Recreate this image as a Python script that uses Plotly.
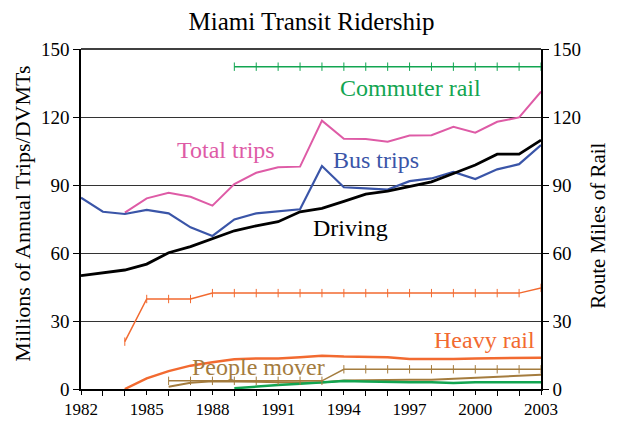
import plotly.graph_objects as go

years = list(range(1982, 2004))

driving = [50, 51.3, 52.5, 55.1, 60.1, 62.8, 66.4, 69.8, 72, 73.8, 78.2, 79.7,
           82.8, 86, 87.3, 89.5, 91.4, 95.1, 98.8, 103.6, 103.6, 109.8]
bus_trips = [84.4, 78.2, 77.2, 79, 77.5, 71.3, 67.5, 74.8, 77.5, 78.5, 79.3, 98.4,
             89, 88.5, 88, 91.7, 92.9, 95.8, 92.6, 96.9, 99.2, 107.6]
total_years = list(range(1984, 2004))
total_trips = [77.8, 84.1, 86.6, 84.8, 80.9, 90.4, 95.4, 97.8, 98.1, 118.4,
               110.4, 110.3, 109.1, 111.8, 112, 115.7, 113.1, 117.9, 119.8, 131.2]

heavy_years = list(range(1984, 2004))
heavy_rail = [0, 4.7, 7.9, 10.3, 11.8, 13.1, 13.5, 13.5, 14, 14.7,
              14.3, 14, 14, 13.2, 13.1, 13.2, 13.5, 13.6, 13.7, 13.8]
heavy_route = [20.9, 39.7, 39.7, 39.7, 42.3, 42.3, 42.3, 42.3, 42.3, 42.3,
               42.3, 42.3, 42.3, 42.3, 42.3, 42.3, 42.3, 42.3, 42.3, 44.6]

pm_years = list(range(1986, 2004))
people_mover = [1.0, 2.8, 3.4, 3.4, 3.2, 3.0, 3.0, 2.9, 3.8, 4.0,
                4.1, 4.1, 4.1, 4.5, 4.8, 5.2, 5.6, 6.3]
pm_route = [3.6, 3.6, 3.6, 3.6, 3.6, 3.6, 3.6, 3.6, 8.7, 8.7,
            8.7, 8.7, 8.7, 8.7, 8.7, 8.7, 8.7, 8.7]

cr_years = list(range(1989, 2004))
commuter_rail = [0.3, 1.2, 1.8, 2.3, 2.8, 3.5, 3.3, 3.0, 3.0, 3.0,
                 2.7, 3.0, 3.0, 2.7, 3.0]
cr_route = [142.2] * 15

C_DRIVE = "#000000"
C_BUS = "#3A55A8"
C_TOTAL = "#DE5BA6"
C_CR = "#12A551"
C_HR = "#F26A30"
C_PM = "#A47C3E"

FONT = "Liberation Serif"

fig = go.Figure()

def line(x, y, color, width, yaxis="y", markers=False):
    tr = dict(x=x, y=y, mode="lines", line=dict(color=color, width=width),
              yaxis=yaxis, showlegend=False, hoverinfo="skip")
    if markers:
        tr["mode"] = "lines+markers"
        tr["marker"] = dict(symbol="line-ns", size=6,
                            line=dict(color=color, width=1), color=color)
    fig.add_trace(go.Scatter(**tr))

line(cr_years, cr_route, C_CR, 1.5, "y2", True)
line(heavy_years, heavy_route, C_HR, 1.5, "y2", True)
line(pm_years, pm_route, C_PM, 1.5, "y2", True)
line(heavy_years, heavy_rail, C_HR, 2.5)
line(pm_years, people_mover, C_PM, 2)
line(cr_years, commuter_rail, C_CR, 2.5)
line(total_years, total_trips, C_TOTAL, 2)
line(years, bus_trips, C_BUS, 2.2)
line(years, driving, C_DRIVE, 2.8)

labels = [
    ("Commuter rail", 410, 133, C_CR),
    ("Total trips", 226, 105.5, C_TOTAL),
    ("Bus trips", 376, 101, C_BUS),
    ("Driving", 350, 71, C_DRIVE),
    ("Heavy rail", 484, 21.5, C_HR),
    ("People mover", 258, 9.5, C_PM),
]
for text, px, yv, col in labels:
    xv = 1982 + (px - 81) / 460 * 21
    fig.add_annotation(x=xv, y=yv, text=text, showarrow=False,
                       font=dict(family=FONT, size=24, color=col),
                       xanchor="center", yanchor="middle")

# axis titles
fig.add_annotation(xref="paper", yref="paper", x=-0.128, y=0.516,
                   text="Millions of Annual Trips/DVMTs", textangle=-90,
                   showarrow=False, xanchor="center", yanchor="middle",
                   font=dict(family=FONT, size=22, color="#000"))
fig.add_annotation(xref="paper", yref="paper", x=1.124, y=0.48,
                   text="Route Miles of Rail", textangle=-90,
                   showarrow=False, xanchor="center", yanchor="middle",
                   font=dict(family=FONT, size=21, color="#000"))

axis_font = dict(family=FONT, size=19, color="#000")
x_font = dict(family=FONT, size=17, color="#000")
fig.update_layout(
    width=607, height=413,
    margin=dict(l=73, r=74, t=41, b=32, autoexpand=False),
    paper_bgcolor="white", plot_bgcolor="white",
    title=dict(text="Miami Transit Ridership", x=0.5, xanchor="center",
               y=0.99, yanchor="top",
               font=dict(family=FONT, size=25, color="#000")),
    xaxis=dict(range=[1982, 2003], tickmode="linear", tick0=1982, dtick=3,
               automargin=False,
               ticks="outside", ticklen=4, tickcolor="#000", tickwidth=1,
               showline=True, linecolor="#000", linewidth=1.5,
               showgrid=False, zeroline=False, tickfont=x_font,
               minor=dict(ticks="outside", dtick=1, tick0=1982, ticklen=5,
                          tickcolor="#000", showgrid=False)),
    yaxis=dict(range=[0, 150], tickmode="linear", tick0=0, dtick=30,
               automargin=False,
               ticks="outside", ticklen=6, tickcolor="#000",
               showline=True, linecolor="#000", linewidth=1.5,
               showgrid=True, gridcolor="#333", gridwidth=1,
               zeroline=False, tickfont=axis_font),
    yaxis2=dict(range=[0, 150], tickmode="linear", tick0=0, dtick=30,
                automargin=False,
                overlaying="y", side="right",
                ticks="outside", ticklen=6, tickcolor="#000",
                showline=True, linecolor="#000", linewidth=1.5,
                showgrid=False, zeroline=False, tickfont=axis_font),
)
fig.add_shape(type="line", xref="paper", yref="paper", x0=0, x1=1, y0=1, y1=1,
              line=dict(color="#000", width=1.5))

fig.write_html("out.html")
